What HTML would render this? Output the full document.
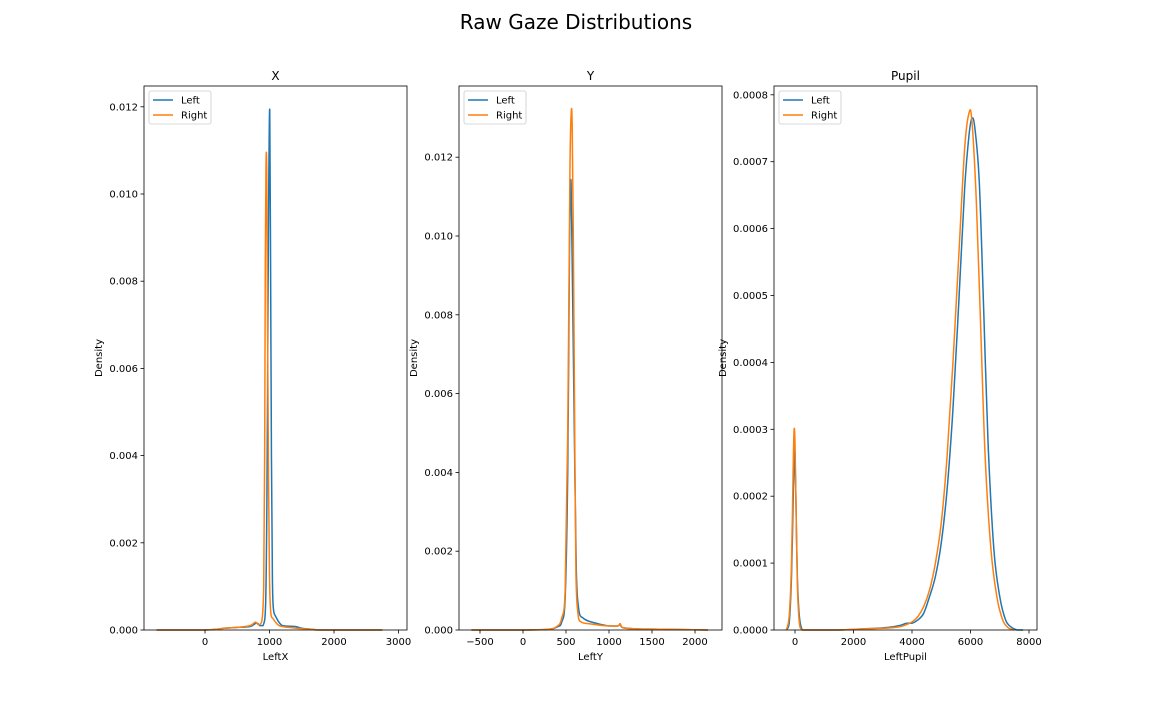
<!DOCTYPE html>
<html><head><meta charset="utf-8"><style>
body{margin:0;background:#fff;font-family:"Liberation Sans","DejaVu Sans",sans-serif;}
svg text{font-family:"DejaVu Sans","Liberation Sans",sans-serif;}
</style></head><body>
<svg id="fig" width="1152" height="720" viewBox="0 0 1152 720" xmlns="http://www.w3.org/2000/svg">
<rect width="1152" height="720" fill="#fff"/>
<text x="576" y="29" font-size="20" text-anchor="middle">Raw Gaze Distributions</text>
</svg>
<script>
// X panel data
const xLeftX=[-750,-300,0,200,300,500,700,800,850,900,940,960,975,990,1004,1015,1030,1045,1060,1100,1200,1400,1500,1700,1800,2750];
const xLeftY=[0,0,0,0.00002,0.00004,0.00006,0.00008,0.00016,0.0001,0.0001,0.0006,0.003,0.007,0.0105,0.0119,0.009,0.004,0.0012,0.0005,0.0003,0.0001,0.00008,0.00004,0.00001,0,0];
const xRightX=[-750,-300,0,200,300,500,700,780,830,880,910,925,935,946,958,970,985,1000,1020,1060,1150,1300,1500,1700,1800,2750];
const xRightY=[0,0,0,0.00002,0.00004,0.00006,0.0001,0.00018,0.00012,0.0002,0.001,0.004,0.0085,0.0107,0.0105,0.007,0.0035,0.0012,0.0004,0.00025,0.0001,0.00006,0.00003,0.00001,0,0];
// Y panel data
const yLeftX=[-600,-300,0,300,400,450,490,520,540,555,565,580,600,620,650,700,800,1000,1100,1130,1160,1300,1600,1900,2150];
const yLeftY=[0,0,0,0.00002,0.00008,0.0002,0.0008,0.004,0.0095,0.0114,0.0105,0.008,0.0045,0.0015,0.0005,0.0003,0.0002,0.0001,0.0001,0.00014,0.00006,0.00003,0.00002,0.00001,0];
const yRightX=[-600,-300,0,300,400,450,490,520,545,560,572,585,600,615,640,680,800,1000,1100,1130,1160,1300,1600,1900,2150];
const yRightY=[0,0,0,0.00002,0.0001,0.0003,0.001,0.005,0.0115,0.0131,0.0128,0.01,0.0055,0.0015,0.0004,0.0002,0.00015,0.0001,0.0001,0.00016,0.00006,0.00003,0.00002,0.00001,0];
// Pupil panel data
const pLeftX=[-300,-200,-120,-60,-20,0,30,80,150,250,400,1500,2500,3200,3600,3800,4000,4200,4400,4600,4800,5000,5200,5400,5600,5800,5950,6050,6150,6300,6450,6600,6800,7000,7200,7400,7600,7800];
const pLeftY=[0,0.00001,0.00008,0.0002,0.00027,0.00026,0.0002,0.00008,0.00002,0,0,0,0.000002,0.000004,0.000007,0.00001,0.00001,0.000015,0.000025,0.00005,0.00008,0.00013,0.00021,0.00033,0.00049,0.00066,0.00074,0.000765,0.00075,0.00067,0.00048,0.00028,0.00012,0.00005,0.000015,0.000004,0,0];
const pRightX=[-300,-200,-120,-60,-30,0,30,80,150,250,400,1500,2500,3200,3600,3800,4000,4200,4400,4600,4800,5000,5200,5400,5600,5800,5950,6050,6200,6350,6500,6700,6900,7100,7300,7500];
const pRightY=[0,0.00002,0.0001,0.00025,0.0003,0.00028,0.0002,0.00007,0.00001,0,0,0,0.000002,0.000003,0.000005,0.000008,0.000012,0.00002,0.000035,0.00006,0.0001,0.00016,0.00026,0.0004,0.00056,0.00072,0.000773,0.00076,0.00064,0.00045,0.00026,0.00012,0.00005,0.000015,0.000003,0];
const xTicks=[0,1000,2000,3000];
const xYTicks=[0,0.002,0.004,0.006,0.008,0.010,0.012];
const yTicks=[-500,0,500,1000,1500,2000];
const yYTicks=[0,0.002,0.004,0.006,0.008,0.010,0.012];
const pTicks=[0,2000,4000,6000,8000];
const pYTicks=[0,0.0001,0.0002,0.0003,0.0004,0.0005,0.0006,0.0007,0.0008];

const NS="http://www.w3.org/2000/svg";
const svg=document.getElementById('fig');
function mk(tag,attrs,parent){const e=document.createElementNS(NS,tag);for(const k in attrs)e.setAttribute(k,attrs[k]);(parent||svg).appendChild(e);return e;}
function smoothPath(pts){
  let d='M'+pts[0][0].toFixed(2)+','+pts[0][1].toFixed(2);
  for(let i=0;i<pts.length-1;i++){
    const p0=pts[i-1]||pts[i],p1=pts[i],p2=pts[i+1],p3=pts[i+2]||p2;
    const c1=[p1[0]+(p2[0]-p0[0])/6,p1[1]+(p2[1]-p0[1])/6];
    const c2=[p2[0]-(p3[0]-p1[0])/6,p2[1]-(p3[1]-p1[1])/6];
    c1[1]=Math.min(c1[1],Math.max(p1[1],p2[1]));c2[1]=Math.min(c2[1],Math.max(p1[1],p2[1]));
    d+='C'+c1[0].toFixed(2)+','+c1[1].toFixed(2)+' '+c2[0].toFixed(2)+','+c2[1].toFixed(2)+' '+p2[0].toFixed(2)+','+p2[1].toFixed(2);
  }
  return d;
}
function panel(o){
  const g=mk('g',{});
  
  
  const sx=v=>o.x0px+(v-o.x0)*o.kx;
  const sy=v=>o.bottom-v*o.ky;
  const t=mk('text',{x:(o.left+o.right)/2,y:o.top-6,'font-size':12,'text-anchor':'middle'},g);t.textContent=o.title;
  
  
  [[o.lx,o.ly,'#1f77b4'],[o.rx,o.ry,'#ff7f0e']].forEach((s,i)=>{
    const pts=s[0].map((v,j)=>[sx(v),sy(s[1][j])]);
    const p=mk('path',{d:smoothPath(pts),fill:'none',stroke:s[2],'stroke-width':1.5,'stroke-linejoin':'round'},g);
    
    
  });
  const fr=mk('rect',{x:o.left,y:o.top,width:o.right-o.left,height:o.bottom-o.top,fill:'none',stroke:'#000','stroke-width':0.8},g);
  
  
  o.xt.forEach(v=>{const x=sx(v);mk('line',{x1:x,x2:x,y1:o.bottom,y2:o.bottom+3.5,stroke:'#000','stroke-width':0.8},g);
    const tx=mk('text',{x:x,y:o.bottom+15,'font-size':10,'text-anchor':'middle'},g);tx.textContent=v<0?'\u2212'+(-v):String(v);
    
    });
  o.yt.forEach(v=>{const y=sy(v);mk('line',{x1:o.left,x2:o.left-3.5,y1:y,y2:y,stroke:'#000','stroke-width':0.8},g);
    const tx=mk('text',{x:o.left-6,y:y+3.5,'font-size':10,'text-anchor':'end'},g);tx.textContent=v.toFixed(o.dec);
    
    });
  const xl=mk('text',{x:(o.left+o.right)/2,y:o.bottom+30,'font-size':10,'text-anchor':'middle'},g);xl.textContent=o.xlabel;
  
  
  const yl=mk('text',{x:0,y:0,'font-size':10,'text-anchor':'middle',transform:`translate(${o.left-o.ylOff},${(o.top+o.bottom)/2}) rotate(-90)`},g);yl.textContent='Density';
  
  
  const lg=mk('g',{},g);
  
  
  mk('rect',{x:o.left+5,y:o.top+5,width:62,height:33,rx:2,fill:'#fff',stroke:'#ccc','stroke-width':0.8},lg);
  [['Left','#1f77b4'],['Right','#ff7f0e']].forEach((e,i)=>{const y=o.top+14+i*15;
    mk('line',{x1:o.left+9,x2:o.left+29,y1:y,y2:y,stroke:e[1],'stroke-width':1.5},lg);
    const tx=mk('text',{x:o.left+37,y:y+3.5,'font-size':10},lg);tx.textContent=e[0];
    
    });
}
panel({name:'x',title:'X',xlabel:'LeftX',left:144,right:407,top:86,bottom:630,x0:0,x0px:205,kx:0.0645,ky:87.2/0.002,lx:xLeftX,ly:xLeftY,rx:xRightX,ry:xRightY,xt:xTicks,yt:xYTicks,dec:3,ylOff:42});
panel({name:'y',title:'Y',xlabel:'LeftY',left:459,right:722,top:86,bottom:630,x0:0,x0px:523,kx:0.086,ky:78.8/0.002,lx:yLeftX,ly:yLeftY,rx:yRightX,ry:yRightY,xt:yTicks,yt:yYTicks,dec:3,ylOff:42});
panel({name:'pupil',title:'Pupil',xlabel:'LeftPupil',left:774,right:1037,top:86,bottom:630,x0:0,x0px:795,kx:0.02925,ky:66.9/0.0001,lx:pLeftX,ly:pLeftY,rx:pRightX,ry:pRightY,xt:pTicks,yt:pYTicks,dec:4,ylOff:48});
</script>
</body></html>
